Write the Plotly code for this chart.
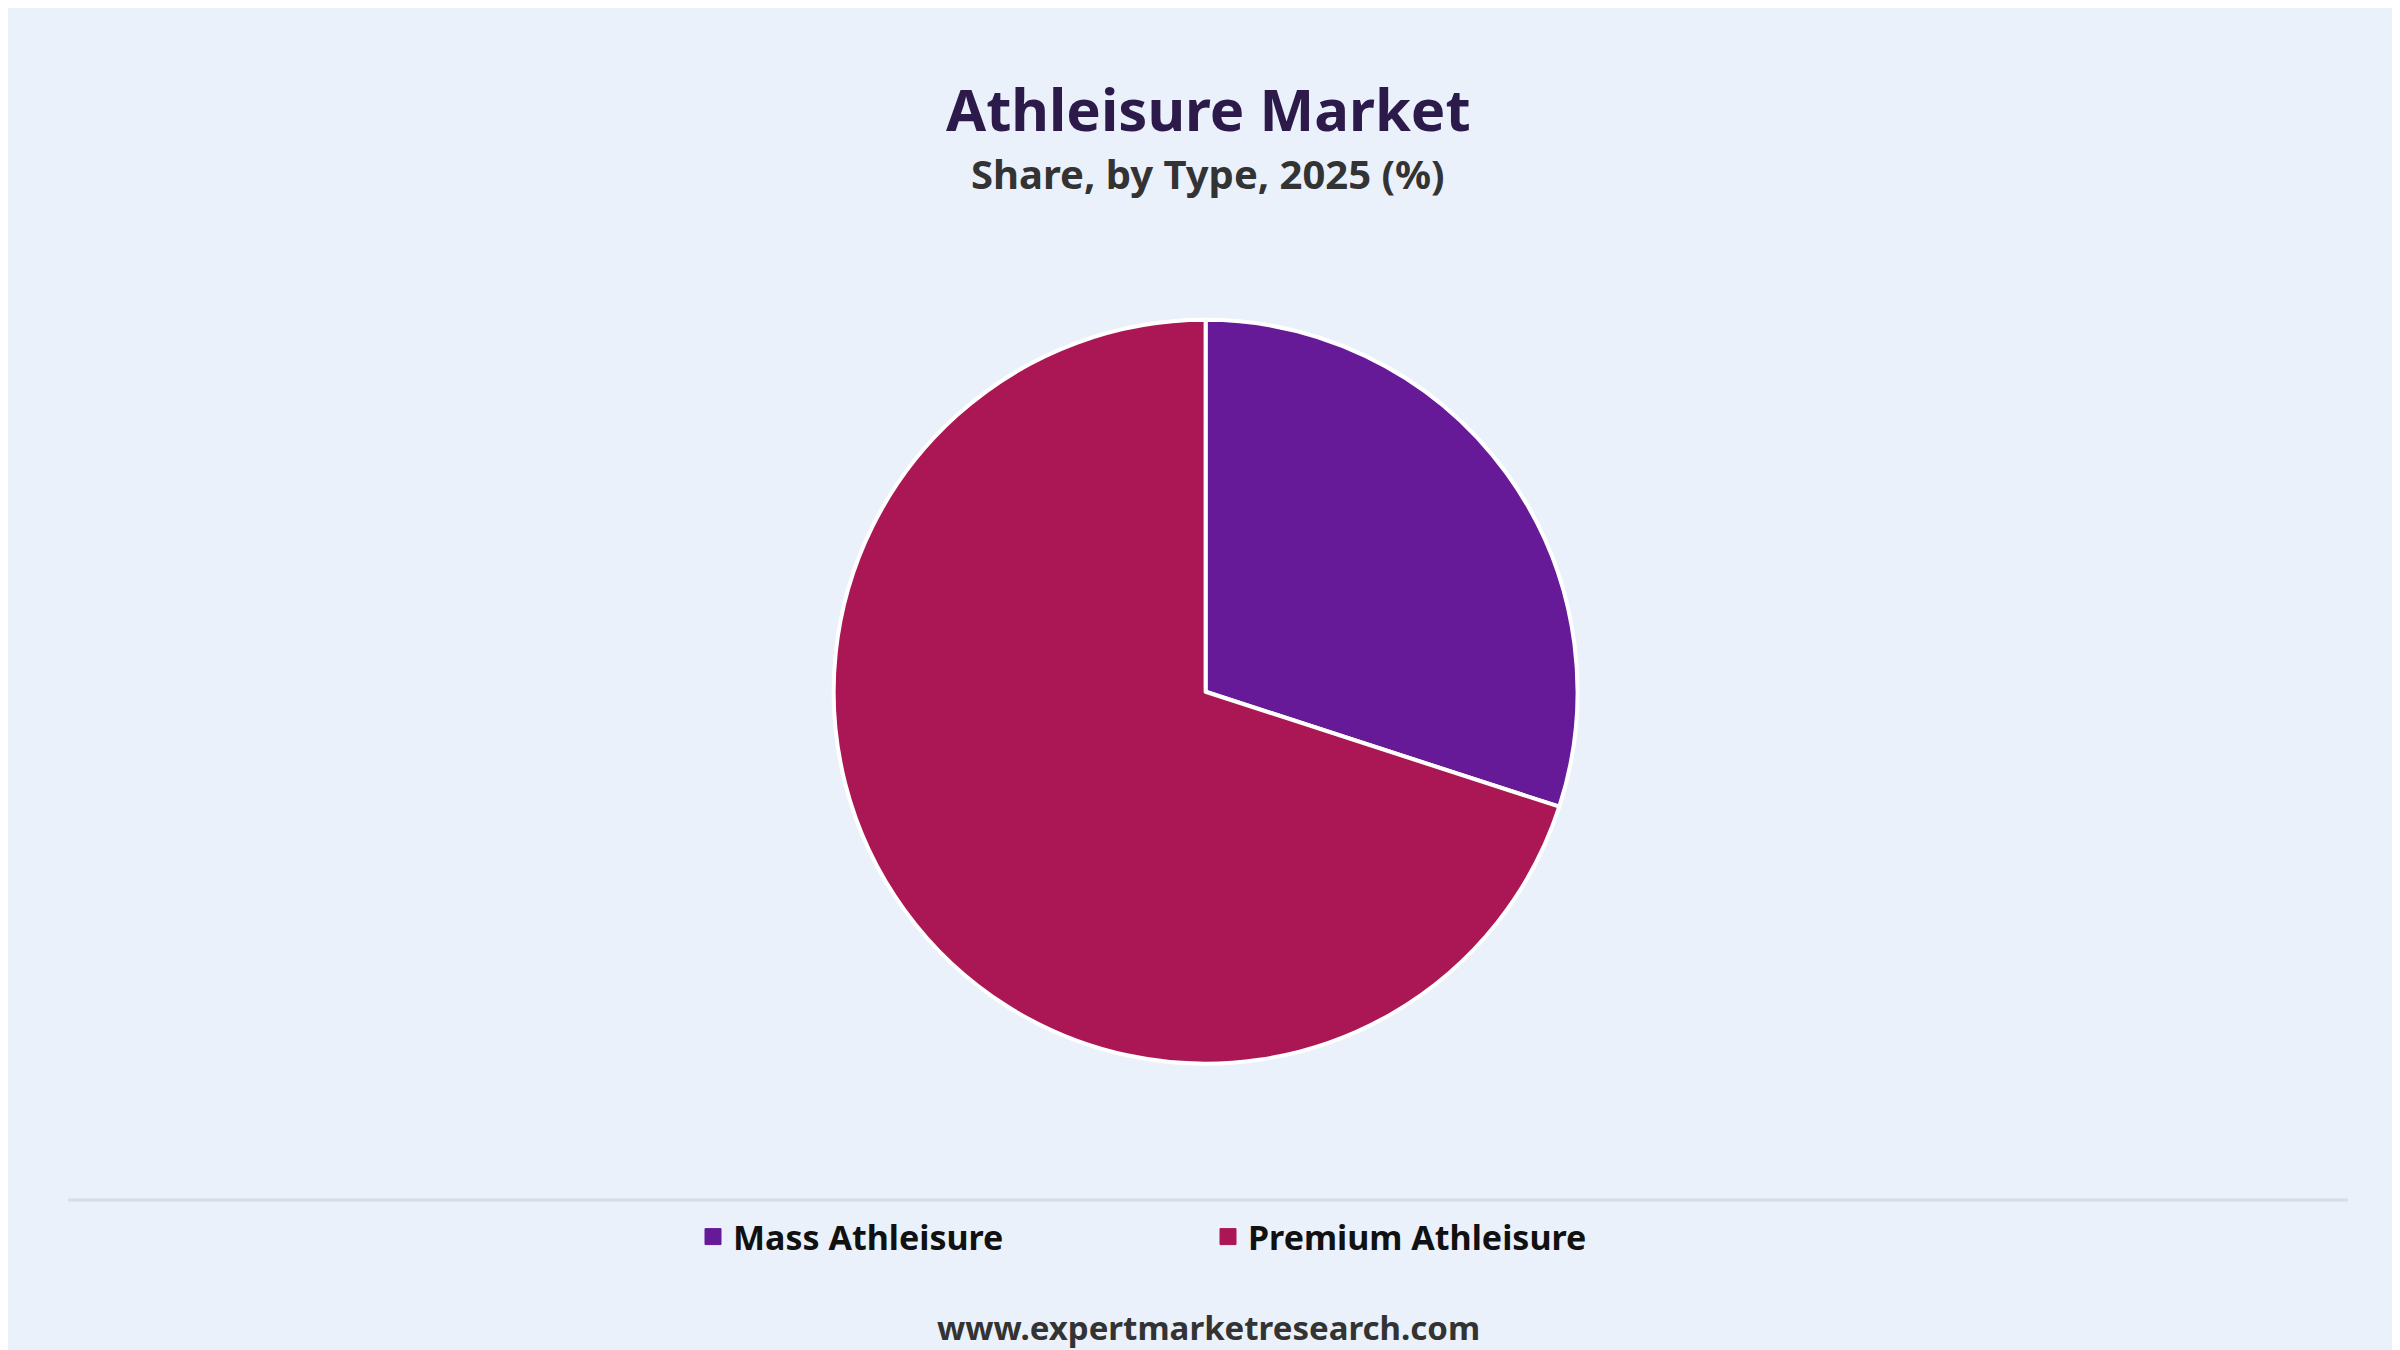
import plotly.graph_objects as go

labels = ["Mass Athleisure", "Premium Athleisure"]
shares = [30, 70]
colors = ["#671A98", "#AB1755"]

fig = go.Figure(
    go.Pie(
        labels=labels, values=shares, sort=False, direction="clockwise", rotation=0,
        marker=dict(colors=colors, line=dict(color="white", width=4)),
        textinfo="none", hoverinfo="label+percent", showlegend=False,
        domain=dict(x=[0.344, 0.654], y=[0.218, 0.769]),
    )
)

# legend entries with bigger square swatches
for name, col in zip(labels, colors):
    fig.add_trace(go.Scatter(
        x=[None], y=[None], mode="markers", name=name, hoverinfo="skip",
        marker=dict(symbol="square", size=32, color=col, line=dict(color=col, width=1)),
    ))

fig.update_layout(
    width=2400, height=1350,
    paper_bgcolor="#EAF1FB", plot_bgcolor="#EAF1FB",
    margin=dict(l=0, r=0, t=0, b=0),
    font=dict(family="Noto Sans"),
    xaxis=dict(visible=False), yaxis=dict(visible=False),
    showlegend=True,
    legend=dict(
        orientation="h", x=0.5, xanchor="center", y=1 - 1229 / 1350, yanchor="middle",
        font=dict(size=34, color="#111111", family="Noto Sans", weight="bold"),
        entrywidth=470, itemsizing="trace", bgcolor="rgba(0,0,0,0)",
    ),
    shapes=[dict(type="line", xref="paper", yref="paper", x0=0.025, x1=0.975,
                 y0=1 - 1192 / 1350, y1=1 - 1192 / 1350,
                 line=dict(color="#D9DCE1", width=3))],
    annotations=[
        dict(text="Athleisure Market", x=0.5, y=1 - 100 / 1350, xref="paper", yref="paper",
             yanchor="middle", showarrow=False,
             font=dict(size=58, color="#2B1A4A", family="Noto Sans", weight="bold")),
        dict(text="Share, by Type, 2025 (%)", x=0.5, y=1 - 165 / 1350, xref="paper", yref="paper",
             yanchor="middle", showarrow=False,
             font=dict(size=40, color="#333333", family="Noto Sans", weight="bold")),
        dict(text="www.expertmarketresearch.com", x=0.5, y=1 - 1319 / 1350, xref="paper", yref="paper",
             yanchor="middle", showarrow=False,
             font=dict(size=33, color="#333333", family="Noto Sans", weight="bold")),
    ],
)

fig.write_html("out.html")
